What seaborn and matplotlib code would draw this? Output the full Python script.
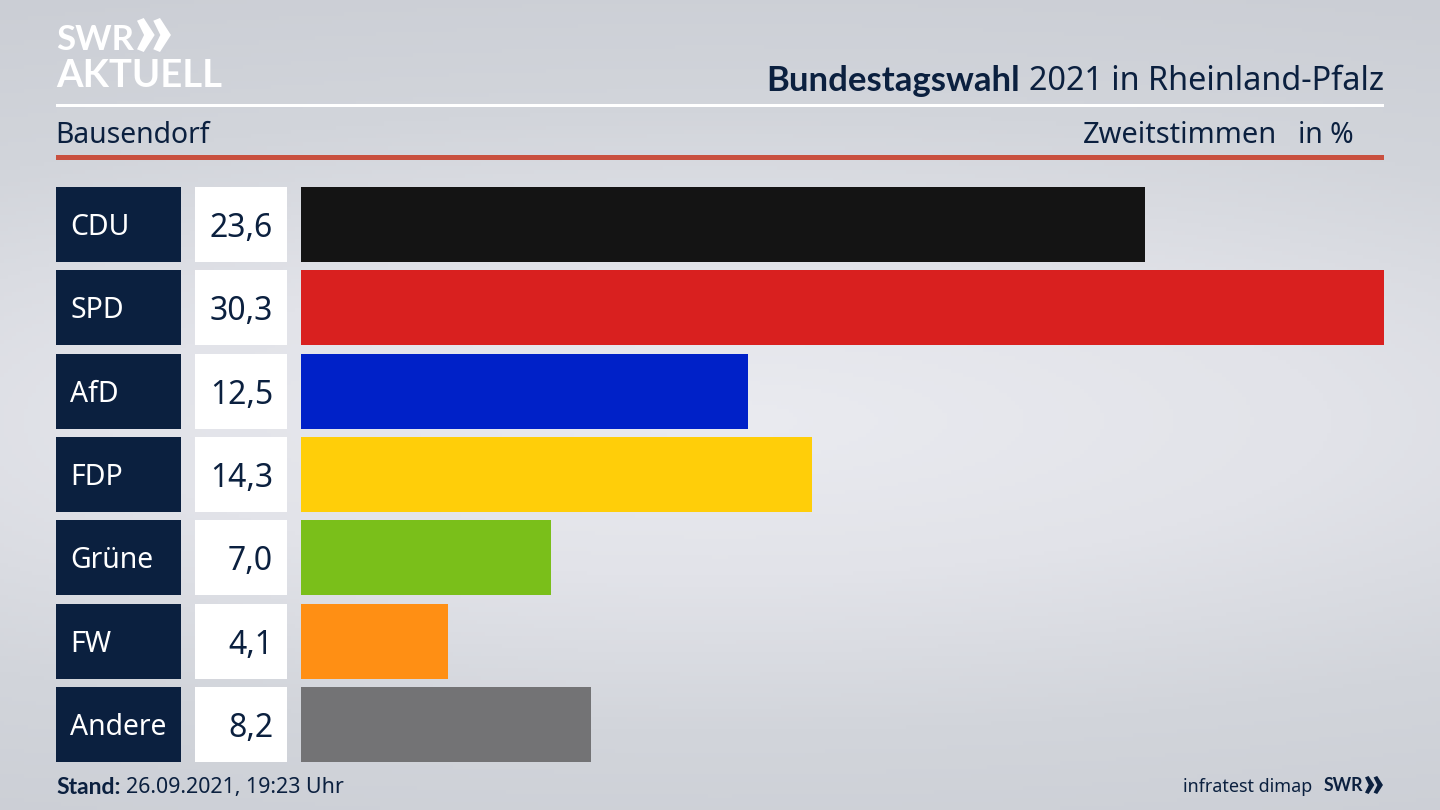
import numpy as np
import pandas as pd
import seaborn as sns
import matplotlib.pyplot as plt
from matplotlib.colors import LinearSegmentedColormap
from matplotlib.patches import Polygon, Rectangle
from matplotlib.transforms import blended_transform_factory

# data
parties = ["CDU", "SPD", "AfD", "FDP", "Grüne", "FW", "Andere"]
values = [23.6, 30.3, 12.5, 14.3, 7.0, 4.1, 8.1]  # Andere: length as drawn in the picture
value_labels = ["23,6", "30,3", "12,5", "14,3", "7,0", "4,1", "8,2"]
colors = ["#141414", "#d9201f", "#0021c8", "#ffce09", "#7abf1a", "#ff8f14", "#737375"]

NAVY = "#0b203f"
FONT = "Noto Sans"
BOLD = "Lato"

sns.set_theme(style="white")
plt.rcParams["font.family"] = [FONT, "DejaVu Sans"]

W, H = 1440, 810
fig = plt.figure(figsize=(14.4, 8.1), dpi=100)

# background: light band in the middle, darker towards top, bottom and corners
bg = fig.add_axes([0, 0, 1, 1], zorder=0)
yy, xx = np.mgrid[0:1:200j, 0:1:356j]
dist = np.sqrt(((xx - 0.5) / 1.1) ** 2 + ((yy - 0.52) / 0.5) ** 2)
cmap = LinearSegmentedColormap.from_list("bg", ["#eaebf0", "#e2e3e9", "#d2d5db", "#cbced5"])
bg.imshow(dist, cmap=cmap, aspect="auto", extent=[0, W, H, 0], vmin=0, vmax=1.15)
bg.set_xlim(0, W)
bg.set_ylim(H, 0)
bg.axis("off")

# bars
ax = fig.add_axes([301 / W, 1 - 762 / H, (1384 - 301) / W, (762 - 187) / H], zorder=2)
df = pd.DataFrame({"party": parties, "value": values})
sns.barplot(data=df, x="value", y="party", hue="party", palette=colors, order=parties,
            hue_order=parties, legend=False, width=0.9, saturation=1, linewidth=0, ax=ax)
ax.set_xlim(0, 30.3)
ax.set_ylim(6.45, -0.45)
ax.axis("off")

# label boxes next to the bars
trans = blended_transform_factory(bg.transData, ax.transData)
for i, party in enumerate(parties):
    bg.add_patch(Rectangle((56, i - 0.45), 125, 0.9, transform=trans, fc=NAVY, ec="none"))
    bg.add_patch(Rectangle((195, i - 0.45), 92, 0.9, transform=trans, fc="white", ec="none"))
    bg.text(70, i - 0.005, party, transform=trans, color="white", fontsize=20.4, va="center_baseline")
    bg.text(273, i, value_labels[i], transform=trans, color=NAVY, fontsize=23,
            ha="right", va="center_baseline")

# header
bg.add_patch(Rectangle((56, 104), 1328, 3, fc="white", ec="none"))
bg.add_patch(Rectangle((56, 155), 1328, 5, fc="#c9503f", ec="none"))
bg.text(55, 132, "Bausendorf", color=NAVY, fontsize=20.4, va="center_baseline")
bg.text(1277, 132, "Zweitstimmen", color=NAVY, fontsize=20.9, ha="right", va="center_baseline")
bg.text(1354, 132, "in %", color=NAVY, fontsize=20.4, ha="right", va="center_baseline")
bg.text(1384, 78, "2021 in Rheinland-Pfalz", color=NAVY, fontsize=23.3, ha="right",
        va="center_baseline")
bg.text(1020, 78, "Bundestagswahl", family=BOLD, color=NAVY, fontsize=25, fontweight="bold",
        ha="right", va="center_baseline")

# logo
def chevrons(x, y, h, color):
    w = h * 0.52
    for dx in (0, w * 0.92):
        bg.add_patch(Polygon([(x + dx, y + h * 0.08), (x + dx + w * 0.38, y), (x + dx + w, y + h / 2),
                              (x + dx + w * 0.38, y + h), (x + dx, y + h * 0.92),
                              (x + dx + w * 0.4, y + h / 2)], fc=color, ec="none"))

bg.text(56, 50, "SWR", family=BOLD, color="white", fontsize=25, fontweight="bold", va="baseline")
chevrons(137, 18, 34, "white")
bg.text(56, 87, "AKTUELL", family=BOLD, color="white", fontsize=27.5, fontweight="bold", va="baseline")

# footer
bg.text(56, 785, "Stand:", family=BOLD, color=NAVY, fontsize=16.5, fontweight="bold", va="center_baseline")
bg.text(126, 785, "26.09.2021, 19:23 Uhr", color=NAVY, fontsize=15.4, va="center_baseline")
bg.text(1312, 785, "infratest dimap", color=NAVY, fontsize=12.9, ha="right", va="center_baseline")
bg.text(1324, 791, "SWR", family=BOLD, color=NAVY, fontsize=12.7, fontweight="bold", va="baseline")
chevrons(1365, 776, 18, NAVY)

fig.savefig("out.png", dpi=100)
